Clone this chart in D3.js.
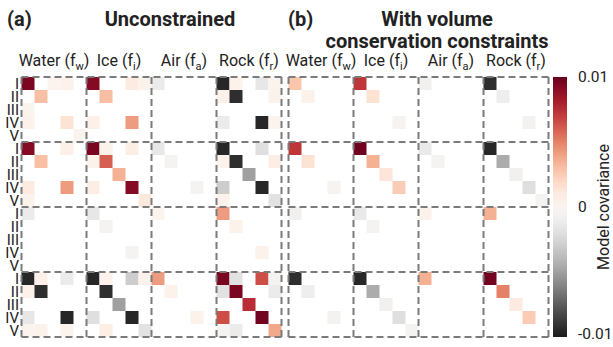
<!DOCTYPE html>
<html>
<head>
<meta charset="utf-8">
<script src="https://cdn.jsdelivr.net/npm/d3@7"></script>
<style>
  body { margin: 0; background: #fff; }
  text { font-family: Roboto, "Noto Sans", sans-serif; fill: #222; }
</style>
</head>
<body>
<svg id="chart" width="613" height="347"></svg>
<script>
// ---- data ----
const propertyKeys = ["w", "i", "a", "r"];
const propertyNames = ["Water", "Ice", "Air", "Rock"];
const propertySubs = ["w", "i", "a", "r"];
const layerLabels = ["I", "II", "III", "IV", "V"];
const colorTicks = [0.01, 0, -0.01];
const colorTickLabels = ["0.01", "0", "-0.01"];

// Upper-triangle covariance entries [row, col, value]; the matrix is symmetric.
const unconstrained = [
  ["w1","w1",0.0095],["w2","w2",0.0030],["w4","w4",0.0015],["w5","w5",0.0003],["w1","w4",0.0005],["w1","w3",0.0003],
  ["w1","i1",0.0092],["w2","i2",0.0030],["w4","i4",0.0042],["w1","i4",0.0010],["w4","i1",0.0006],["w1","i5",0.0004],
  ["w1","a1",-0.0012],
  ["w1","r1",-0.0095],["w2","r2",-0.0092],["w4","r4",-0.0095],["w1","r4",-0.0015],["w4","r1",-0.0012],
  ["w1","r2",0.0005],["w2","r1",0.0006],["w1","r5",0.0003],["w2","r5",0.0004],["w4","r5",0.0003],
  ["i1","i1",0.0095],["i2","i2",0.0060],["i3","i3",0.0035],["i4","i4",0.0092],["i5","i5",0.0012],["i1","i4",0.0008],["i1","i2",0.0004],
  ["i1","a1",-0.0015],["i2","a2",-0.0005],["i4","a4",-0.0005],
  ["i1","r1",-0.0095],["i2","r2",-0.0092],["i3","r3",-0.0050],["i4","r4",-0.0095],["i5","r5",-0.0018],
  ["i1","r4",-0.0020],["i4","r1",-0.0030],["i2","r5",0.0008],["i2","r1",0.0005],["i5","r1",0.0005],
  ["a1","a1",0.0003],
  ["a1","r1",0.0042],["a2","r2",0.0005],["a4","r4",0.0004],
  ["r1","r1",0.0095],["r2","r2",0.0095],["r3","r3",0.0075],["r4","r4",0.0097],["r5","r5",0.0038],
  ["r1","r2",-0.0018],["r1","r4",0.0065],["r2","r5",-0.0012],["r1","r5",-0.0005]
];

const constrained = [
  ["w1","w1",0.0028],["w2","w2",0.0004],
  ["w1","i1",0.0072],["w2","i2",0.0015],["w4","i4",-0.0004],
  ["w1","a1",-0.0008],
  ["w1","r1",-0.0092],["w2","r2",-0.0010],["w4","r4",-0.0006],
  ["i1","i1",0.0098],["i2","i2",0.0035],["i3","i3",0.0013],["i4","i4",0.0025],
  ["i1","a1",-0.0014],["i2","a2",-0.0005],
  ["i1","r1",-0.0095],["i2","r2",-0.0045],["i3","r3",-0.0008],["i4","r4",-0.0020],["i5","r5",-0.0005],
  ["a1","a1",0.0005],
  ["a1","r1",0.0035],
  ["r1","r1",0.0097],["r2","r2",0.0050],["r3","r3",0.0010],["r4","r4",0.0025]
];

// ---- helpers ----
const nLayer = layerLabels.length;
const nVar = propertyKeys.length * nLayer;
const varIndex = k => propertyKeys.indexOf(k[0]) * nLayer + (+k.slice(1) - 1);

function toCells(entries) {
  const m = d3.range(nVar).map(() => d3.range(nVar).map(() => 0));
  entries.forEach(([a, b, v]) => {
    const r = varIndex(a), c = varIndex(b);
    m[r][c] = v; m[c][r] = v;
  });
  const cells = [];
  m.forEach((row, r) => row.forEach((v, c) => { if (v !== 0) cells.push({ r, c, v }); }));
  return cells;
}

const svg = d3.select("#chart");
const color = d3.scaleDiverging(t => d3.interpolateRdGy(1 - t)).domain([-0.01, 0, 0.01]).clamp(true);

const matTop = 77, matSize = 260;

function drawPanel(x0, entries) {
  const x = d3.scaleBand().domain(d3.range(nVar)).range([x0, x0 + matSize]);
  const y = d3.scaleBand().domain(d3.range(nVar)).range([matTop, matTop + matSize]);
  const g = svg.append("g");
  g.selectAll("rect.cell").data(toCells(entries)).join("rect")
    .attr("class", "cell")
    .attr("x", d => x(d.c)).attr("y", d => y(d.r))
    .attr("width", x.bandwidth()).attr("height", y.bandwidth())
    .attr("fill", d => color(d.v));

  // block boundaries
  const bounds = d3.range(propertyKeys.length + 1).map(i => i * nLayer);
  const pos = (s, i) => i === nVar ? s.range()[1] : s(i);
  g.selectAll("line.v").data(bounds).join("line").attr("class", "v")
    .attr("x1", i => pos(x, i)).attr("x2", i => pos(x, i))
    .attr("y1", matTop).attr("y2", matTop + matSize);
  g.selectAll("line.h").data(bounds).join("line").attr("class", "h")
    .attr("y1", i => pos(y, i)).attr("y2", i => pos(y, i))
    .attr("x1", x0).attr("x2", x0 + matSize);
  g.selectAll("line")
    .attr("stroke", "#7b7b7b").attr("stroke-width", 2).attr("stroke-dasharray", "7,4");

  // column headers
  propertyNames.forEach((name, p) => {
    const cx = x(p * nLayer) + x.bandwidth() * nLayer / 2;
    const t = g.append("text").attr("x", cx).attr("y", 66)
      .attr("text-anchor", "middle").attr("font-size", 16);
    t.append("tspan").text(name + " (f");
    t.append("tspan").attr("font-size", 11).attr("dy", 4).text(propertySubs[p]);
    t.append("tspan").attr("dy", -4).text(")");
  });
  return { x, y };
}

const a = drawPanel(21.5, unconstrained);
drawPanel(288.5, constrained);

// row labels
const rowLabels = d3.range(nVar).map(i => layerLabels[i % nLayer]);
svg.append("g").selectAll("text").data(rowLabels).join("text")
  .attr("x", 19).attr("y", (d, i) => a.y(i) + a.y.bandwidth() / 2)
  .attr("dy", "0.36em").attr("text-anchor", "end").attr("font-size", 15)
  .text(d => d);

// titles
const titleSize = 20;
svg.append("text").attr("x", 7).attr("y", 26).attr("font-size", titleSize).attr("font-weight", "bold").text("(a)");
svg.append("text").attr("x", 170).attr("y", 26).attr("font-size", titleSize).attr("font-weight", "bold")
  .attr("text-anchor", "middle").text("Unconstrained");
svg.append("text").attr("x", 288).attr("y", 26).attr("font-size", titleSize).attr("font-weight", "bold").text("(b)");
svg.append("text").attr("x", 437).attr("y", 26).attr("font-size", titleSize).attr("font-weight", "bold")
  .attr("text-anchor", "middle").text("With volume");
svg.append("text").attr("x", 437).attr("y", 48).attr("font-size", titleSize).attr("font-weight", "bold")
  .attr("text-anchor", "middle").text("conservation constraints");

// colour bar
const cbX = 553, cbW = 14;
const cbScale = d3.scaleLinear().domain([-0.01, 0.01]).range([matTop + matSize, matTop]);
const grad = svg.append("defs").append("linearGradient").attr("id", "cbgrad")
  .attr("x1", 0).attr("y1", 1).attr("x2", 0).attr("y2", 0);
grad.selectAll("stop").data(d3.range(0, 1.0001, 0.05)).join("stop")
  .attr("offset", t => t).attr("stop-color", t => color(-0.01 + 0.02 * t));
svg.append("rect").attr("x", cbX).attr("y", matTop).attr("width", cbW).attr("height", matSize)
  .attr("fill", "url(#cbgrad)");

const cbAxis = svg.append("g").attr("transform", `translate(${cbX + cbW + 11},0)`)
  .call(d3.axisRight(cbScale).tickValues(colorTicks).tickSize(0)
    .tickFormat((d, i) => colorTickLabels[i]));
cbAxis.select(".domain").remove();
cbAxis.selectAll("text").attr("font-size", 15.5).attr("font-family", "Roboto, sans-serif").attr("fill", "#222").attr("x", 0);
// keep the lowest tick label inside the frame
cbAxis.selectAll(".tick").filter(d => d === -0.01).select("text").attr("dy", "0.1em");

svg.append("text")
  .attr("transform", `translate(609,${matTop + matSize / 2}) rotate(-90)`)
  .attr("text-anchor", "middle").attr("font-size", 16)
  .text("Model covariance");
</script>
</body>
</html>
